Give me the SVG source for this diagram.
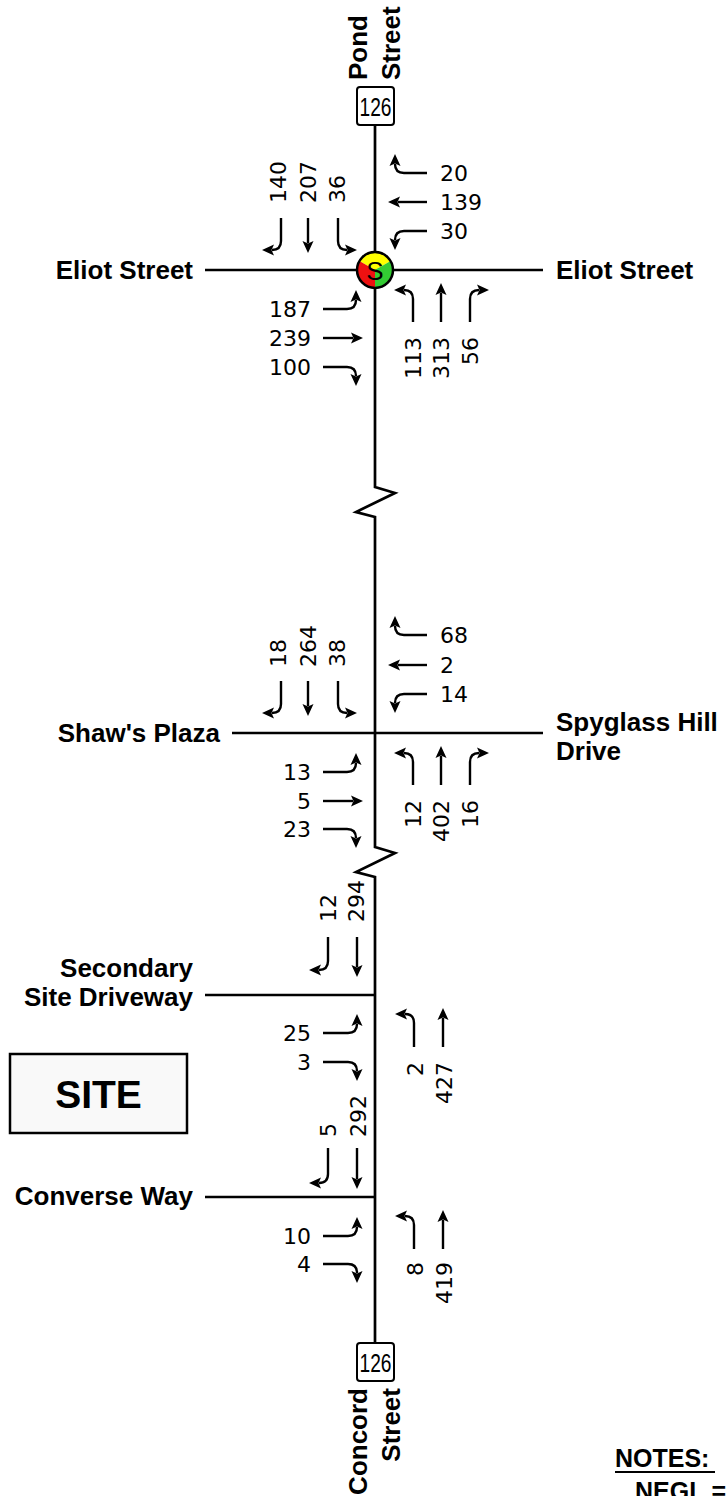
<svg xmlns="http://www.w3.org/2000/svg" width="727" height="1496" viewBox="0 0 727 1496">
<style>
.road{stroke:#000;stroke-width:2.7;fill:none}
.arr{stroke:#000;stroke-width:2.4;fill:none;marker-end:url(#ah)}
.num{font-family:"DejaVu Sans",sans-serif;font-size:22px;fill:#000}
.lbl{font-family:"Liberation Sans",Arial,sans-serif;font-weight:bold;font-size:26px;fill:#000}
.e{text-anchor:end}
.shield{fill:#fff;stroke:#000;stroke-width:2}
.sh{font-family:"Liberation Sans",Arial,sans-serif;font-size:26px;text-anchor:middle}
</style>
<defs>
<marker id="ah" viewBox="0 -6 12 12" refX="2" refY="0" markerWidth="12" markerHeight="12" markerUnits="userSpaceOnUse" orient="auto"><path d="M0,-5.5 L12,0 L0,5.5 L2.5,0 z" fill="#000"/></marker>
</defs>
<rect width="727" height="1496" fill="#fff"/>

<g id="roads">
<path class="road" d="M375,125 V487 L395,493 L356,512 L375,517 V847 L395,853 L356,872 L375,877 V1343"/>
<path class="road" d="M205,270 H543"/>
<path class="road" d="M232,733 H543"/>
<path class="road" d="M205,995 H375"/>
<path class="road" d="M205,1197 H375"/>
</g>

<g id="shield-north">
<rect class="shield" x="357" y="87" width="37" height="38" rx="3"/>
<text class="sh" x="375.5" y="116" textLength="32" lengthAdjust="spacingAndGlyphs">126</text>
</g>
<g id="shield-south">
<rect class="shield" x="357" y="1343" width="37" height="38" rx="3"/>
<text class="sh" x="375.5" y="1372" textLength="32" lengthAdjust="spacingAndGlyphs">126</text>
</g>

<g id="labels">
<text class="lbl" transform="translate(367,80) rotate(-90)">Pond</text>
<text class="lbl" transform="translate(400,80) rotate(-90)">Street</text>
<text class="lbl e" transform="translate(367,1388) rotate(-90)">Concord</text>
<text class="lbl e" transform="translate(400,1388) rotate(-90)">Street</text>
<text class="lbl e" x="193" y="279">Eliot Street</text>
<text class="lbl" x="556" y="279">Eliot Street</text>
<text class="lbl e" x="220" y="742">Shaw's Plaza</text>
<text class="lbl" x="556" y="731">Spyglass Hill</text>
<text class="lbl" x="556" y="760">Drive</text>
<text class="lbl e" x="193" y="977">Secondary</text>
<text class="lbl e" x="193" y="1006">Site Driveway</text>
<text class="lbl e" x="193" y="1205">Converse Way</text>
</g>

<g id="site">
<rect x="10" y="1054" width="177" height="79" fill="#f9f9f9" stroke="#000" stroke-width="2.5"/>
<text x="98.5" y="1108" font-family="Liberation Sans, Arial, sans-serif" font-weight="bold" font-size="39" text-anchor="middle">SITE</text>
</g>

<g id="notes">
<text x="615" y="1467" font-family="Liberation Sans, Arial, sans-serif" font-weight="bold" font-size="25">NOTES:</text>
<line x1="615" y1="1472" x2="715" y2="1472" stroke="#000" stroke-width="2"/>
<text x="635" y="1500" font-family="Liberation Sans, Arial, sans-serif" font-weight="bold" font-size="25">NEGL.=</text>
</g>

<g id="eliot" transform="translate(375,270)">
<g id="eliot-sb">
<path class="arr" d="M-94,-52 V-29 Q-94,-20 -103,-20"/>
<path class="arr" d="M-67,-52 V-27"/>
<path class="arr" d="M-37,-52 V-29 Q-37,-20 -28,-20"/>
<text class="num" transform="translate(-89,-67) rotate(-90)">140</text>
<text class="num" transform="translate(-59,-67) rotate(-90)">207</text>
<text class="num" transform="translate(-30,-67) rotate(-90)">36</text>
</g>
<g id="eliot-wb">
<path class="arr" d="M52,-97 H29 Q20,-97 20,-106"/>
<path class="arr" d="M52,-68 H23"/>
<path class="arr" d="M52,-39 H29 Q20,-39 20,-30"/>
<text class="num" x="65" y="-89">20</text>
<text class="num" x="65" y="-60">139</text>
<text class="num" x="65" y="-31">30</text>
</g>
<g id="eliot-eb">
<path class="arr" d="M-52,39 H-28 Q-19,39 -19,30"/>
<path class="arr" d="M-52,68 H-22"/>
<path class="arr" d="M-52,97 H-28 Q-19,97 -19,106"/>
<text class="num e" x="-64" y="47">187</text>
<text class="num e" x="-64" y="76">239</text>
<text class="num e" x="-64" y="105">100</text>
</g>
<g id="eliot-nb">
<path class="arr" d="M38,52 V29 Q38,20 29,20"/>
<path class="arr" d="M66,52 V23"/>
<path class="arr" d="M95,52 V29 Q95,20 104,20"/>
<text class="num e" transform="translate(46,67) rotate(-90)">113</text>
<text class="num e" transform="translate(74,67) rotate(-90)">313</text>
<text class="num e" transform="translate(103,67) rotate(-90)">56</text>
</g>
<g id="signal">
<path d="M0,0 L-15.6,-9 A18,18 0 0,1 15.6,-9 Z" fill="#ffff00"/>
<path d="M0,0 L15.6,-9 A18,18 0 0,1 0,18 Z" fill="#33cc33"/>
<path d="M0,0 L0,18 A18,18 0 0,1 -15.6,-9 Z" fill="#ee1111"/>
<circle r="18" fill="none" stroke="#000" stroke-width="2.5"/>
<text x="0" y="9.5" font-family="Liberation Sans, Arial, sans-serif" font-size="26" text-anchor="middle">S</text>
</g>
</g>

<g id="shaws" transform="translate(375,733)">
<g id="shaws-sb">
<path class="arr" d="M-94,-52 V-29 Q-94,-20 -103,-20"/>
<path class="arr" d="M-67,-52 V-27"/>
<path class="arr" d="M-37,-52 V-29 Q-37,-20 -28,-20"/>
<text class="num" transform="translate(-89,-66) rotate(-90)">18</text>
<text class="num" transform="translate(-59,-66) rotate(-90)">264</text>
<text class="num" transform="translate(-30,-66) rotate(-90)">38</text>
</g>
<g id="shaws-wb">
<path class="arr" d="M52,-98 H29 Q20,-98 20,-107"/>
<path class="arr" d="M52,-68 H23"/>
<path class="arr" d="M52,-39 H29 Q20,-39 20,-30"/>
<text class="num" x="65" y="-90">68</text>
<text class="num" x="65" y="-60">2</text>
<text class="num" x="65" y="-31">14</text>
</g>
<g id="shaws-eb">
<path class="arr" d="M-52,39 H-28 Q-19,39 -19,30"/>
<path class="arr" d="M-52,68 H-22"/>
<path class="arr" d="M-52,96 H-28 Q-19,96 -19,105"/>
<text class="num e" x="-64" y="47">13</text>
<text class="num e" x="-64" y="76">5</text>
<text class="num e" x="-64" y="104">23</text>
</g>
<g id="shaws-nb">
<path class="arr" d="M38,52 V29 Q38,20 29,20"/>
<path class="arr" d="M66,52 V23"/>
<path class="arr" d="M95,52 V29 Q95,20 104,20"/>
<text class="num e" transform="translate(46,67) rotate(-90)">12</text>
<text class="num e" transform="translate(74,67) rotate(-90)">402</text>
<text class="num e" transform="translate(103,67) rotate(-90)">16</text>
</g>
</g>

<g id="secondary" transform="translate(375,995)">
<g id="secondary-sb">
<path class="arr" d="M-47,-58 V-34 Q-47,-25 -56,-25"/>
<path class="arr" d="M-18,-58 V-28"/>
<text class="num" transform="translate(-39,-73) rotate(-90)">12</text>
<text class="num" transform="translate(-11,-73) rotate(-90)">294</text>
</g>
<g id="secondary-eb">
<path class="arr" d="M-52,38 H-27 Q-18,38 -18,29"/>
<path class="arr" d="M-52,67 H-27 Q-18,67 -18,76"/>
<text class="num e" x="-64" y="46">25</text>
<text class="num e" x="-64" y="75">3</text>
</g>
<g id="secondary-nb">
<path class="arr" d="M39,52 V28 Q39,19 30,19"/>
<path class="arr" d="M68,52 V23"/>
<text class="num e" transform="translate(48,67) rotate(-90)">2</text>
<text class="num e" transform="translate(77,67) rotate(-90)">427</text>
</g>
</g>

<g id="converse" transform="translate(375,1197)">
<g id="converse-sb">
<path class="arr" d="M-47,-49 V-23 Q-47,-14 -56,-14"/>
<path class="arr" d="M-18,-49 V-18"/>
<text class="num" transform="translate(-39,-60) rotate(-90)">5</text>
<text class="num" transform="translate(-9,-60) rotate(-90)">292</text>
</g>
<g id="converse-eb">
<path class="arr" d="M-52,39 H-27 Q-18,39 -18,30"/>
<path class="arr" d="M-52,67 H-27 Q-18,67 -18,76"/>
<text class="num e" x="-64" y="47">10</text>
<text class="num e" x="-64" y="75">4</text>
</g>
<g id="converse-nb">
<path class="arr" d="M39,52 V28 Q39,19 30,19"/>
<path class="arr" d="M68,52 V23"/>
<text class="num e" transform="translate(48,65) rotate(-90)">8</text>
<text class="num e" transform="translate(77,65) rotate(-90)">419</text>
</g>
</g>
</svg>
